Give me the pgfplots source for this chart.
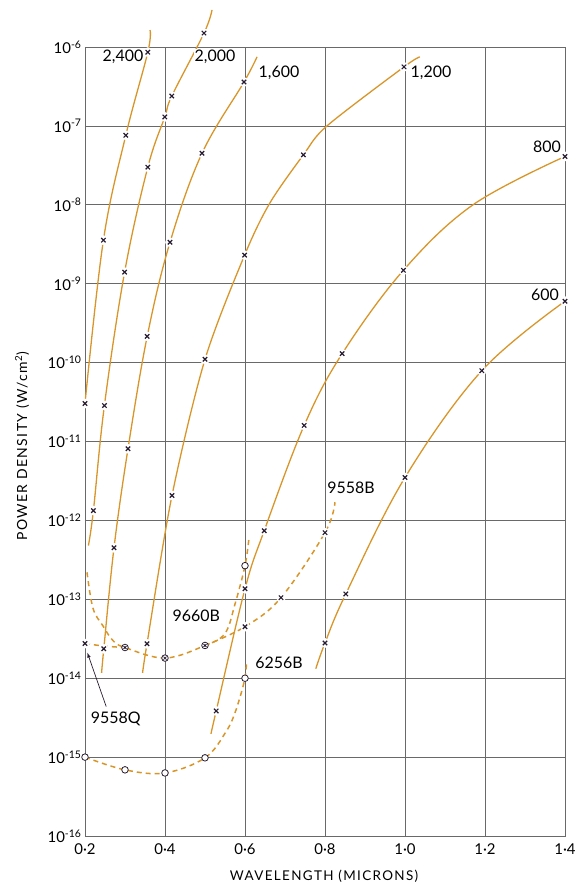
\documentclass[border=0pt]{standalone}
\usepackage{fontspec}
\setmainfont{Lato}
\newfontfamily\spaced[LetterSpace=10]{Lato}
\usepackage{pgfplots}
\pgfplotsset{compat=1.18}
\definecolor{cur}{RGB}{216,150,42}
\definecolor{mk}{RGB}{40,28,48}
\definecolor{gr}{RGB}{105,105,105}
\pgfplotsset{
  bb/.style={cur, line width=1.3bp, smooth, tension=0.6, no marks},
  det/.style={cur, line width=1.5bp, dash pattern=on 5bp off 4bp, smooth, tension=0.6, no marks},
  wbg/.style={only marks, white, mark=*, mark size=4.6bp},
  xm/.style={only marks, mk, mark=x, mark size=3.1bp, line width=1.2bp},
  om/.style={only marks, mk, mark=*, mark size=3.3bp, line width=0.8bp, mark options={fill=white}},
}
\begin{document}
\begin{tikzpicture}
\begin{axis}[name=ax,
  width=480bp, height=789bp, scale only axis,
  xmin=0.2, xmax=1.4, ymin=1e-16, ymax=1e-6,
  ymode=log, log basis y=10, clip=false,
  xtick={0.2,0.4,0.6,0.8,1.0,1.2,1.4},
  xticklabels={0·2,0·4,0·6,0·8,1·0,1·2,1·4},
  ytick={1e-16,1e-15,1e-14,1e-13,1e-12,1e-11,1e-10,1e-9,1e-8,1e-7,1e-6},
  yticklabels={10\textsuperscript{-16},10\textsuperscript{-15},10\textsuperscript{-14},10\textsuperscript{-13},10\textsuperscript{-12},10\textsuperscript{-11},10\textsuperscript{-10},10\textsuperscript{-9},10\textsuperscript{-8},10\textsuperscript{-7},10\textsuperscript{-6}},
  grid=major, major grid style={gr, line width=0.8bp},
  axis line style={gr, line width=0.9bp},
  major tick length=0pt, minor tick length=0pt, minor tick num=0,
  tick label style={font=\fontsize{15}{17}\selectfont, text=black},
  xticklabel style={yshift=-4bp},
  xlabel={WAVELENGTH (MICRONS)},
  ylabel={POWER DENSITY (W/cm\textsuperscript{2})},
  xlabel style={at={(axis description cs:0.498,-0.0507)}, anchor=center, font=\spaced\fontsize{13.5}{15}\selectfont},
  ylabel style={at={(axis description cs:-0.131,0.494)}, anchor=center, font=\spaced\fontsize{14}{16}\selectfont},
]
% ---------- black-body curves ----------
% 2400
\addplot[bb] coordinates {(0.2,3.03e-11) (0.246,3.56e-9) (0.302,7.6e-8) (0.357,8.6e-7) (0.3625,1.64e-6)};
% 2000
\addplot[bb] coordinates {(0.2085,4.8e-13) (0.221,1.33e-12) (0.2485,2.86e-11) (0.299,1.4e-9) (0.357,3.0e-8) (0.3995,1.3e-7) (0.417,2.39e-7) (0.4975,1.5e-6) (0.5175,2.95e-6)};
% 1600
\addplot[bb] coordinates {(0.2415,1.17e-14) (0.247,2.36e-14) (0.2725,4.5e-13) (0.3075,8.1e-12) (0.3555,2.15e-10) (0.4125,3.35e-9) (0.4925,4.5e-8) (0.5975,3.6e-7) (0.63,7.5e-7)};
% 1200
\addplot[bb, tension=0.5] coordinates {(0.344,1.17e-14) (0.355,2.73e-14) (0.4175,2.07e-12) (0.5,1.1e-10) (0.599,2.3e-9) (0.662,1.05e-8) (0.746,4.3e-8) (0.805,1.0e-7) (0.9975,5.6e-7) (1.037,7.5e-7)};
% 800
\addplot[bb] coordinates {(0.515,1.97e-15) (0.528,3.85e-15) (0.6,1.36e-13) (0.648,7.4e-13) (0.748,1.6e-11) (0.843,1.3e-10) (0.996,1.48e-9) (1.17,1.0e-8) (1.4,4.1e-8)};
% 600
\addplot[bb] coordinates {(0.777,1.32e-14) (0.8,2.8e-14) (0.852,1.17e-13) (1.0,3.5e-12) (1.192,7.9e-11) (1.4,6.0e-10)};
% ---------- detector curves ----------
% 9558Q
\addplot[det] coordinates {(0.2,2.75e-14) (0.25,2.55e-14) (0.3,2.45e-14)};
% 9660B
\addplot[det] coordinates {(0.205,2.2e-13) (0.22,7.7e-14) (0.245,4.6e-14) (0.27,3.0e-14) (0.3,2.45e-14) (0.4,1.8e-14) (0.5,2.6e-14) (0.55,3.7e-14) (0.575,8.7e-14) (0.6,2.67e-13) (0.61,6e-13)};
% 9558B
\addplot[det] coordinates {(0.5,2.6e-14) (0.6,4.5e-14) (0.69,1.05e-13) (0.8,7e-13) (0.825,1.7e-12)};
% 6256B
\addplot[det] coordinates {(0.2,1e-15) (0.3,6.9e-16) (0.4,6.3e-16) (0.5,9.8e-16) (0.5525,2.1e-15) (0.577,3.9e-15) (0.6,1e-14) (0.603,1.6e-14)};
% ---------- mark backgrounds ----------
\addplot[wbg] coordinates {(0.2,3.03e-11) (0.246,3.56e-9) (0.302,7.6e-8) (0.357,8.6e-7)
 (0.221,1.33e-12) (0.2485,2.86e-11) (0.299,1.4e-9) (0.357,3.0e-8) (0.3995,1.3e-7) (0.417,2.39e-7) (0.4975,1.5e-6)
 (0.247,2.36e-14) (0.2725,4.5e-13) (0.3075,8.1e-12) (0.3555,2.15e-10) (0.4125,3.35e-9) (0.4925,4.5e-8) (0.5975,3.6e-7)
 (0.355,2.73e-14) (0.4175,2.07e-12) (0.5,1.1e-10) (0.599,2.3e-9) (0.746,4.3e-8) (0.9975,5.6e-7)
 (0.528,3.85e-15) (0.6,1.36e-13) (0.648,7.4e-13) (0.748,1.6e-11) (0.843,1.3e-10) (0.996,1.48e-9) (1.4,4.1e-8)
 (0.8,2.8e-14) (0.852,1.17e-13) (1.0,3.5e-12) (1.192,7.9e-11) (1.4,6.0e-10)
 (0.2,2.75e-14) (0.6,4.5e-14) (0.69,1.05e-13) (0.8,7e-13)};
% ---------- x marks ----------
\addplot[xm] coordinates {(0.2,3.03e-11) (0.246,3.56e-9) (0.302,7.6e-8) (0.357,8.6e-7)
 (0.221,1.33e-12) (0.2485,2.86e-11) (0.299,1.4e-9) (0.357,3.0e-8) (0.3995,1.3e-7) (0.417,2.39e-7) (0.4975,1.5e-6)
 (0.247,2.36e-14) (0.2725,4.5e-13) (0.3075,8.1e-12) (0.3555,2.15e-10) (0.4125,3.35e-9) (0.4925,4.5e-8) (0.5975,3.6e-7)
 (0.355,2.73e-14) (0.4175,2.07e-12) (0.5,1.1e-10) (0.599,2.3e-9) (0.746,4.3e-8) (0.9975,5.6e-7)
 (0.528,3.85e-15) (0.6,1.36e-13) (0.648,7.4e-13) (0.748,1.6e-11) (0.843,1.3e-10) (0.996,1.48e-9) (1.4,4.1e-8)
 (0.8,2.8e-14) (0.852,1.17e-13) (1.0,3.5e-12) (1.192,7.9e-11) (1.4,6.0e-10)
 (0.2,2.75e-14) (0.6,4.5e-14) (0.69,1.05e-13) (0.8,7e-13)};
% ---------- circle marks ----------
\addplot[om] coordinates {(0.2,1e-15) (0.3,6.9e-16) (0.4,6.3e-16) (0.5,9.8e-16) (0.6,1e-14)
 (0.3,2.45e-14) (0.4,1.8e-14) (0.5,2.6e-14) (0.6,2.67e-13)};
\addplot[only marks, mk, mark=x, mark size=2.1bp, line width=0.8bp] coordinates {(0.3,2.45e-14) (0.4,1.8e-14) (0.5,2.6e-14)};
% ---------- labels ----------
\begin{scope}[every node/.style={font=\fontsize{16}{18}\selectfont, inner sep=1bp}]
\node[fill=white] at (axis cs:0.295,7.47e-7) {2,400};
\node[fill=white] at (axis cs:0.525,7.47e-7) {2,000};
\node[fill=white] at (axis cs:0.685,4.7e-7) {1,600};
\node[fill=white] at (axis cs:1.065,4.7e-7) {1,200};
\node at (axis cs:1.355,5.4e-8) {800};
\node at (axis cs:1.35,7.3e-10) {600};
\node at (axis cs:0.865,2.6e-12) {9558B};
\node at (axis cs:0.478,6.2e-14) {9660B};
\node[fill=white] at (axis cs:0.685,1.58e-14) {6256B};
\node at (axis cs:0.277,3.05e-15) {9558Q};
\end{scope}
\draw[mk, line width=0.7bp, -{latex}] (axis cs:0.253,4.37e-15) -- (axis cs:0.206,2.1e-14);
\end{axis}
\pgfresetboundingbox
\path[use as bounding box] ([shift={(-85bp,-49bp)}]ax.south west) rectangle ([shift={(12bp,47bp)}]ax.north east);
\end{tikzpicture}
\end{document}
